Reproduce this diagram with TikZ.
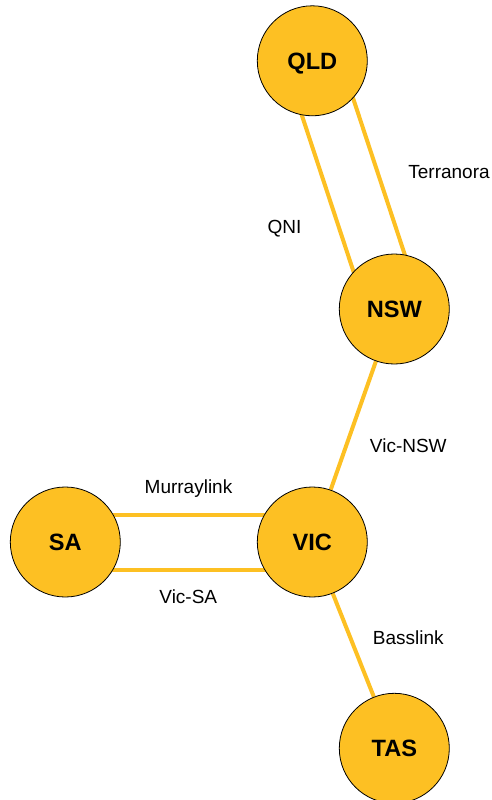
\documentclass[tikz,border=0pt]{standalone}
\usepackage{fontspec}
\setmainfont{Liberation Sans}
\usetikzlibrary{calc,backgrounds}
\definecolor{gold}{HTML}{FDC023}
\tikzset{
  region/.style={circle,draw=black,line width=0.8pt,fill=gold,minimum size=110pt,inner sep=0pt,
    text height=17pt,text depth=0pt,
    font=\fontsize{23.6}{28}\selectfont\bfseries},
  link/.style={draw=gold,line width=4pt},
  lbl/.style={anchor=base,inner sep=0pt,font=\fontsize{19}{23}\selectfont}
}
\begin{document}
\begin{tikzpicture}[x=1pt,y=-1pt]
\useasboundingbox (0,0) rectangle (491,800);
\node[region] (qld) at (312.3,60.8) {QLD};
\node[region] (nsw) at (394.3,309) {NSW};
\node[region] (sa) at (65.3,542) {SA};
\node[region] (vic) at (312.3,542) {VIC};
\node[region] (tas) at (394.3,748.3) {TAS};
\begin{scope}[on background layer]
  \draw[link] ($(qld)!27pt!-90:(nsw)$) -- ($(nsw)!27pt!90:(qld)$);
  \draw[link] ($(qld)!27pt!90:(nsw)$) -- ($(nsw)!27pt!-90:(qld)$);
  \draw[link] (nsw) -- (vic);
  \draw[link] ($(sa)!27.5pt!90:(vic)$) -- ($(vic)!27.5pt!-90:(sa)$);
  \draw[link] ($(sa)!27.5pt!-90:(vic)$) -- ($(vic)!27.5pt!90:(sa)$);
  \draw[link] (vic) -- (tas);
\end{scope}
\node[lbl] (lqni) at (284.5,233.3) {QNI};
\node[lbl] (lter) at (449,178.3) {Terranora};
\node[lbl] (lvn) at (408.3,452.7) {Vic-NSW};
\node[lbl] (lmur) at (188.5,493.6) {Murraylink};
\node[lbl] (lvsa) at (188.3,603) {Vic-SA};
\node[lbl] (lbass) at (408.3,644) {Basslink};
\end{tikzpicture}
\end{document}
